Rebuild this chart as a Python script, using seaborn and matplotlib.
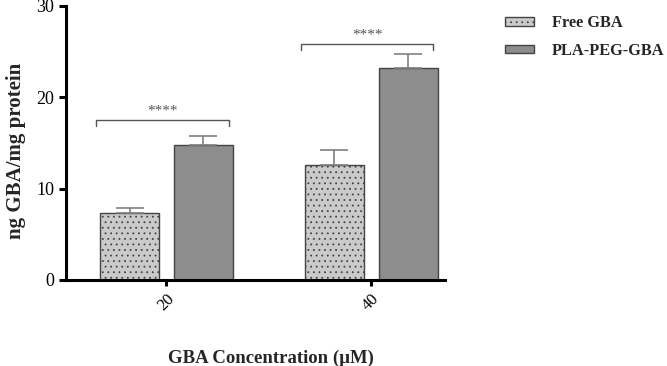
import matplotlib
matplotlib.use('Agg')
import matplotlib.pyplot as plt
import pandas as pd
import seaborn as sns

# data
concentrations = ['20', '40']
groups = ['Free GBA', 'PLA-PEG-GBA']
free_gba = [7.3, 12.6]
free_gba_sd = [0.6, 1.6]
pla_peg_gba = [14.8, 23.2]
pla_peg_gba_sd = [1.0, 1.5]
bracket_y = [17.5, 25.8]
sig_labels = ['****', '****']

df = pd.DataFrame({
    'conc': concentrations * 2,
    'group': [groups[0]] * 2 + [groups[1]] * 2,
    'value': free_gba + pla_peg_gba,
})
sds = [free_gba_sd, pla_peg_gba_sd]

sns.set_style('ticks')
plt.rcParams['font.family'] = ['Liberation Serif', 'DejaVu Serif']
plt.rcParams['hatch.color'] = '#555555'
plt.rcParams['hatch.linewidth'] = 0.6

fig = plt.figure(figsize=(6.67, 3.66), dpi=100)
ax = fig.add_axes([0.099, 0.235, 0.568, 0.749])

palette = {groups[0]: '#cacaca', groups[1]: '#8d8d8d'}
sns.barplot(data=df, x='conc', y='value', hue='group', order=concentrations,
            hue_order=groups, palette=palette, width=0.72, gap=0.2,
            edgecolor='#444444', linewidth=1.0, errorbar=None, ax=ax,
            saturation=1)

# dotted hatch on the free GBA bars
for bar in ax.containers[0]:
    bar.set_hatch('...')

# upper-only error bars
for cont, sd in zip(ax.containers, sds):
    for bar, e in zip(cont, sd):
        xc = bar.get_x() + bar.get_width() / 2
        ax.errorbar(xc, bar.get_height(), yerr=[[0], [e]], fmt='none',
                    ecolor='#808080', elinewidth=1.2, capsize=10, capthick=1.2,
                    zorder=1)

# significance brackets
for i, (yb, lab) in enumerate(zip(bracket_y, sig_labels)):
    left = ax.containers[0][i]
    right = ax.containers[1][i]
    x0 = left.get_x() - 0.02
    x1 = right.get_x() + right.get_width() - 0.02
    ax.plot([x0, x0, x1, x1], [yb - 0.6, yb, yb, yb - 0.6], color='#555555',
            lw=1.0, clip_on=False)
    ax.text((x0 + x1) / 2, yb + 0.3, lab, ha='center', va='bottom',
            fontsize=11, color='#555555')

ax.set_ylim(0, 30)
ax.set_yticks([0, 10, 20, 30])
ax.set_xlim(-0.49, 1.36)
sns.despine(ax=ax)
for s in ['left', 'bottom']:
    ax.spines[s].set_linewidth(2.2)
    ax.spines[s].set_color('black')
ax.tick_params(axis='both', width=2.2, length=5, labelsize=13, colors='black')
ax.tick_params(axis='x', length=4, labelsize=12)
plt.setp(ax.get_xticklabels(), rotation=45, ha='center')

ax.set_xlabel('GBA Concentration (µM)', fontsize=13.5, fontweight='bold')
ax.xaxis.set_label_coords(0.541, -0.255)
ax.set_ylabel('ng GBA/mg protein', fontsize=15, fontweight='bold')
ax.yaxis.set_label_coords(-0.106, 0.47)

handles, labels = ax.get_legend_handles_labels()
ax.legend(handles, labels, loc='upper left', bbox_to_anchor=(0.735, 0.998),
          bbox_transform=fig.transFigure, frameon=False,
          prop={'family': 'Liberation Serif', 'weight': 'bold', 'size': 11.8},
          handlelength=1.75, handleheight=0.4, labelspacing=0.7, handletextpad=1.1)
leg_patches = ax.get_legend().get_patches()
for h in leg_patches:
    h.set_edgecolor('#444444')
leg_patches[0].set_hatch('...')

fig.savefig('out.png', dpi=100)
